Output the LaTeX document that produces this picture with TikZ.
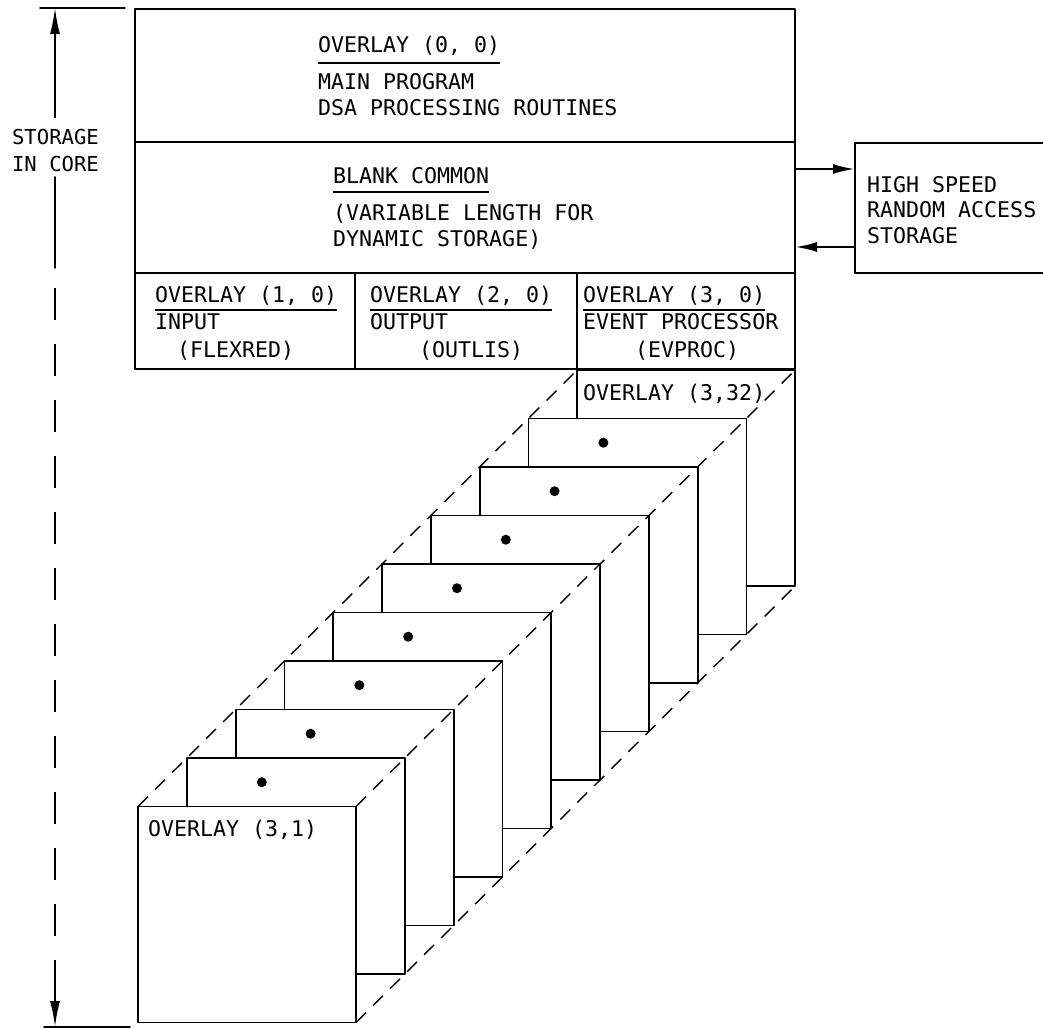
\documentclass[tikz,border=0pt]{standalone}
\usepackage{fontspec}
\newfontfamily\lettering{DejaVu Sans Mono}
\usetikzlibrary{arrows.meta}
\begin{document}
\begin{tikzpicture}[x=1pt,y=-1pt,
  lbl/.style={anchor=base west, inner sep=0pt, font=\lettering\fontsize{21.6}{26}\selectfont},
  clbl/.style={inner sep=0pt, align=center, font=\lettering\fontsize{20.6}{27}\selectfont},
  frame/.style={line width=1.8pt, line cap=round, line join=round},
  uline/.style={line width=1.5pt},
  persp/.style={line width=1.4pt, dash pattern=on 14pt off 10pt},
  sdash/.style={line width=1.7pt, dash pattern=on 32pt off 24pt},
  sarrow/.style={line width=1.7pt, -{Latex[length=26pt,width=10pt]}},
  harrow/.style={line width=2.4pt, -{Latex[length=22pt,width=10pt]}}]
\useasboundingbox (0,0) rectangle (1043,1028);
\fill[white] (0,0) rectangle (1043,1028);

% ---------- storage in core dimension ----------
\draw[frame] (40,8) -- (125,8);
\draw[frame] (44,1027) -- (130,1027);
\coordinate (stTop) at (55,8);
\coordinate (stBot) at (55,1027);
\node[clbl] (stor) at (55.5,150) {STORAGE\\IN CORE};
\draw[sarrow] (55,118) -- (stTop);
\draw[frame] (55,177) -- (55,268);
\draw[sdash] (55,288) -- (55,953);
\draw[sarrow] (55,960) -- (stBot);

% ---------- main core box ----------
\draw[frame] (135,9) rectangle (795,369);
\draw[frame] (135,142) -- (795,142);
\draw[frame] (135,273) -- (795,273);
\draw[frame] (355,273) -- (355,369);
\draw[frame] (577,273) -- (577,369);

\node[lbl] (ov00) at (318,52) {OVERLAY (0, 0)};
\draw[uline] ([yshift=-11pt]ov00.base west) -- ([yshift=-11pt]ov00.base east);
\node[lbl] (mainp) at (318,89) {MAIN PROGRAM};
\node[lbl] (dsa) at (318,115) {DSA PROCESSING ROUTINES};

\node[lbl] (blank) at (333,183) {BLANK COMMON};
\draw[uline] ([yshift=-9pt]blank.base west) -- ([yshift=-9pt]blank.base east);
\node[lbl] (varl) at (333,220) {(VARIABLE LENGTH FOR};
\node[lbl] (dyn) at (333,246) {DYNAMIC STORAGE)};

\node[lbl] (ov10) at (155,302) {OVERLAY (1, 0)};
\draw[uline] ([yshift=-8pt]ov10.base west) -- ([yshift=-8pt]ov10.base east);
\node[lbl] (inp) at (155,329) {INPUT};
\node[lbl] (flex) at (177,357) {(FLEXRED)};

\node[lbl] (ov20) at (370,302) {OVERLAY (2, 0)};
\draw[uline] ([yshift=-8pt]ov20.base west) -- ([yshift=-8pt]ov20.base east);
\node[lbl] (outp) at (370,329) {OUTPUT};
\node[lbl] (outl) at (419,357) {(OUTLIS)};

\node[lbl] (ov30) at (583,302) {OVERLAY (3, 0)};
\draw[uline] ([yshift=-8pt]ov30.base west) -- ([yshift=-8pt]ov30.base east);
\node[lbl] (evp) at (583,329) {EVENT PROCESSOR};
\node[lbl] (evpr) at (635,357) {(EVPROC)};

% ---------- high speed storage ----------
\draw[frame] (1043,143) -- (855,143) -- (855,273) -- (1043,273);
\node[lbl] (hs1) at (867,192) {HIGH SPEED};
\node[lbl] (hs2) at (867,217) {RANDOM ACCESS};
\node[lbl] (hs3) at (867,243) {STORAGE};
\coordinate (coreOut) at (795,169);
\coordinate (hsIn) at (855,169);
\coordinate (hsOut) at (855,247);
\coordinate (coreIn) at (795,247);
\draw[harrow] (coreOut) -- (hsIn);
\draw[harrow] (hsOut) -- (coreIn);

% ---------- stack of overlays (3,1) ... (3,32) ----------
\foreach \k in {1,...,9} {
  \pgfmathsetmacro\L{138+48.8*\k}
  \pgfmathsetmacro\T{806.5-48.5*\k}
  \pgfmathsetmacro\Tp{\T+48.5}
  \pgfmathsetmacro\R{\L+218}
  \pgfmathsetmacro\Rp{\R-48.8}
  \pgfmathsetmacro\B{\T+216}
  \draw[frame] (\L,\Tp) -- (\L,\T) -- (\R,\T) -- (\R,\B) -- (\Rp,\B);
}
\foreach \k in {1,...,8} {
  \pgfmathsetmacro\dx{138+48.8*\k+75}
  \pgfmathsetmacro\dy{806.5-48.5*\k+24.2}
  \fill (\dx,\dy) circle (5pt);
}
\coordinate (ftl) at (138,806.5);
\coordinate (ftr) at (356,806.5);
\coordinate (fbr) at (356,1022.5);
\coordinate (btl) at (577.2,370);
\coordinate (btr) at (795.2,370);
\coordinate (bbr) at (795.2,586);
\draw[persp] (ftl) -- (btl);
\draw[persp] (ftr) -- (btr);
\draw[persp] (fbr) -- (bbr);
\draw[frame] (ftl) rectangle (fbr);
\node[lbl] (ov31) at (148,836) {OVERLAY (3,1)};
\node[lbl] (ov332) at (583,400) {OVERLAY (3,32)};
\end{tikzpicture}
\end{document}
